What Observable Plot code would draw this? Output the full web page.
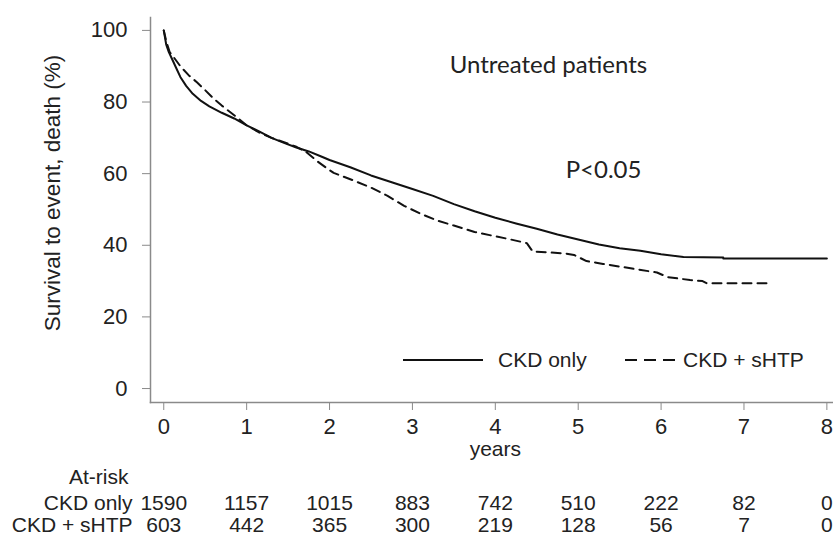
<!DOCTYPE html>
<html>
<head>
<meta charset="utf-8">
<script src="https://cdn.jsdelivr.net/npm/d3@7"></script>
<script src="https://cdn.jsdelivr.net/npm/@observablehq/plot@0.6"></script>
<style>
  body { margin: 0; background: #fff; }
  #wrap { position: relative; width: 833px; height: 536px; }
  .lg { position: absolute; font-family: "Liberation Sans", Arial, sans-serif; font-size: 21px; color: #222; line-height: 1; }
</style>
</head>
<body>
<div id="wrap"></div>
<script>
// Years at which tick marks and at-risk counts are shown
const years = [0, 1, 2, 3, 4, 5, 6, 7, 8];
const yTicks = [0, 20, 40, 60, 80, 100];
const riskCKD = [1590, 1157, 1015, 883, 742, 510, 222, 82, 0];
const riskSHTP = [603, 442, 365, 300, 219, 128, 56, 7, 0];
const rowLabels = ["CKD only", "CKD + sHTP"];

// CKD only survival curve (years, %)
const ckdT = [0, 0.03, 0.06, 0.1, 0.15, 0.2, 0.27, 0.35, 0.45, 0.55, 0.7, 0.85, 1.0, 1.15, 1.3, 1.45, 1.6, 1.75, 1.9, 2.0, 2.25, 2.5, 2.75, 3.0, 3.25, 3.5, 3.75, 4.0, 4.25, 4.5, 4.75, 5.0, 5.25, 5.5, 5.75, 6.0, 6.27, 6.75, 6.75, 8.0];
const ckdS = [100, 96, 94, 92, 89.5, 87, 84.5, 82.3, 80.3, 78.8, 77, 75.4, 73.5, 71.8, 70, 68.6, 67.3, 66.2, 64.8, 63.8, 61.8, 59.5, 57.6, 55.7, 53.8, 51.5, 49.5, 47.7, 46.1, 44.6, 43, 41.6, 40.2, 39.2, 38.5, 37.5, 36.7, 36.6, 36.3, 36.3];

// CKD + sHTP survival curve (years, %)
const shtpT = [0, 0.03, 0.07, 0.12, 0.2, 0.3, 0.4, 0.5, 0.6, 0.7, 0.85, 1.0, 1.15, 1.3, 1.45, 1.6, 1.72, 1.85, 1.95, 2.05, 2.3, 2.5, 2.7, 2.9, 3.1, 3.3, 3.5, 3.75, 4.0, 4.15, 4.38, 4.45, 4.85, 4.95, 5.1, 5.3, 5.65, 5.95, 6.08, 6.35, 6.5, 6.55, 7.31];
const shtpS = [100, 97, 94, 92.5, 90, 87.5, 85.5, 83.3, 81, 79, 76.3, 73.5, 71.5, 70, 68.8, 67.5, 66, 63.5, 61.8, 60.2, 58, 56.1, 53.8, 51, 48.8, 46.9, 45.5, 43.7, 42.5, 41.8, 40.6, 38.3, 37.7, 37.3, 35.6, 34.8, 33.5, 32.4, 31.1, 30.3, 30, 29.4, 29.4];

const ckd = ckdT.map((t, i) => ({t, s: ckdS[i]}));
const shtp = shtpT.map((t, i) => ({t, s: shtpS[i]}));
const risk = years.map((y, i) => ({y, a: riskCKD[i], b: riskSHTP[i]}));

const axisGray = "#8a8a8a";
const ink = "#222";
const calibriLike = "Lato, 'Open Sans', sans-serif";

const chart = Plot.plot({
  width: 833,
  height: 536,
  marginLeft: 150,
  marginRight: 0,
  marginTop: 17,
  marginBottom: 134,
  style: {fontFamily: "'Liberation Sans', Arial, sans-serif", fontSize: "21px", color: ink, background: "white", overflow: "visible"},
  x: {domain: [-0.16, 8.08]},
  y: {domain: [-3.9, 103.6]},
  marks: [
    Plot.frame({anchor: "left", stroke: axisGray, strokeWidth: 1.5}),
    Plot.frame({anchor: "bottom", stroke: axisGray, strokeWidth: 1.5}),
    Plot.axisY({ticks: yTicks, tickSize: 8, tickPadding: 15, label: null, stroke: axisGray, fill: ink, fontSize: 22}),
    Plot.axisX({ticks: years, tickSize: 8, tickPadding: 8, label: null, stroke: axisGray, fill: ink, fontSize: 22, tickFormat: d => String(d)}),
    Plot.line(ckd, {x: "t", y: "s", stroke: "#111", strokeWidth: 2}),
    Plot.line(shtp, {x: "t", y: "s", stroke: "#111", strokeWidth: 2, strokeDasharray: "9,6"}),
    Plot.text(["years"], {x: [4], frameAnchor: "bottom", lineAnchor: "middle", dy: 47, fill: ink, fontSize: 21}),
    Plot.text(["At-risk"], {frameAnchor: "bottom-left", lineAnchor: "middle", dx: -22, dy: 75, textAnchor: "end", fill: ink, fontSize: 21}),
    Plot.text([rowLabels[0]], {frameAnchor: "bottom-left", lineAnchor: "middle", dx: -18, dy: 101, textAnchor: "end", fill: ink, fontSize: 21}),
    Plot.text([rowLabels[1]], {frameAnchor: "bottom-left", lineAnchor: "middle", dx: -18, dy: 123, textAnchor: "end", fill: ink, fontSize: 21, letterSpacing: "0.4px"}),
    Plot.text(risk, {x: "y", text: d => String(d.a), frameAnchor: "bottom", lineAnchor: "middle", dy: 101, fill: ink, fontSize: 21}),
    Plot.text(risk, {x: "y", text: d => String(d.b), frameAnchor: "bottom", lineAnchor: "middle", dy: 123, fill: ink, fontSize: 21}),
    Plot.text(["Survival to event, death (%)"], {frameAnchor: "left", textAnchor: "middle", lineAnchor: "middle", rotate: -90, dx: -98, dy: -17, fill: ink, fontSize: 22.5}),
    Plot.text(["Untreated patients"], {frameAnchor: "top-left", textAnchor: "middle", lineAnchor: "middle", dx: 398, dy: 48, fill: ink, fontSize: 24, fontFamily: calibriLike}),
    Plot.text(["P<0.05"], {frameAnchor: "top-left", textAnchor: "middle", lineAnchor: "middle", dx: 453, dy: 153, fill: ink, fontSize: 24, fontFamily: calibriLike})
  ]
});

const wrap = document.getElementById("wrap");
wrap.appendChild(chart);

// Legend overlay
function legendItem(left, top, w, dashed) {
  const ns = "http://www.w3.org/2000/svg";
  const svg = document.createElementNS(ns, "svg");
  svg.setAttribute("width", w);
  svg.setAttribute("height", 6);
  svg.style.position = "absolute";
  svg.style.left = left + "px";
  svg.style.top = (top - 3) + "px";
  const ln = document.createElementNS(ns, "line");
  ln.setAttribute("x1", 0); ln.setAttribute("x2", w);
  ln.setAttribute("y1", 3); ln.setAttribute("y2", 3);
  ln.setAttribute("stroke", "#111");
  ln.setAttribute("stroke-width", 2);
  if (dashed) ln.setAttribute("stroke-dasharray", "12,7");
  svg.appendChild(ln);
  wrap.appendChild(svg);
}
function legendText(left, top, txt) {
  const d = document.createElement("div");
  d.className = "lg";
  d.style.left = left + "px";
  d.style.top = (top - 11) + "px";
  d.textContent = txt;
  wrap.appendChild(d);
}
legendItem(403, 360, 80, false);
legendText(498, 360, rowLabels[0]);
legendItem(625, 360, 50, true);
legendText(683, 360, rowLabels[1]);
</script>
</body>
</html>
